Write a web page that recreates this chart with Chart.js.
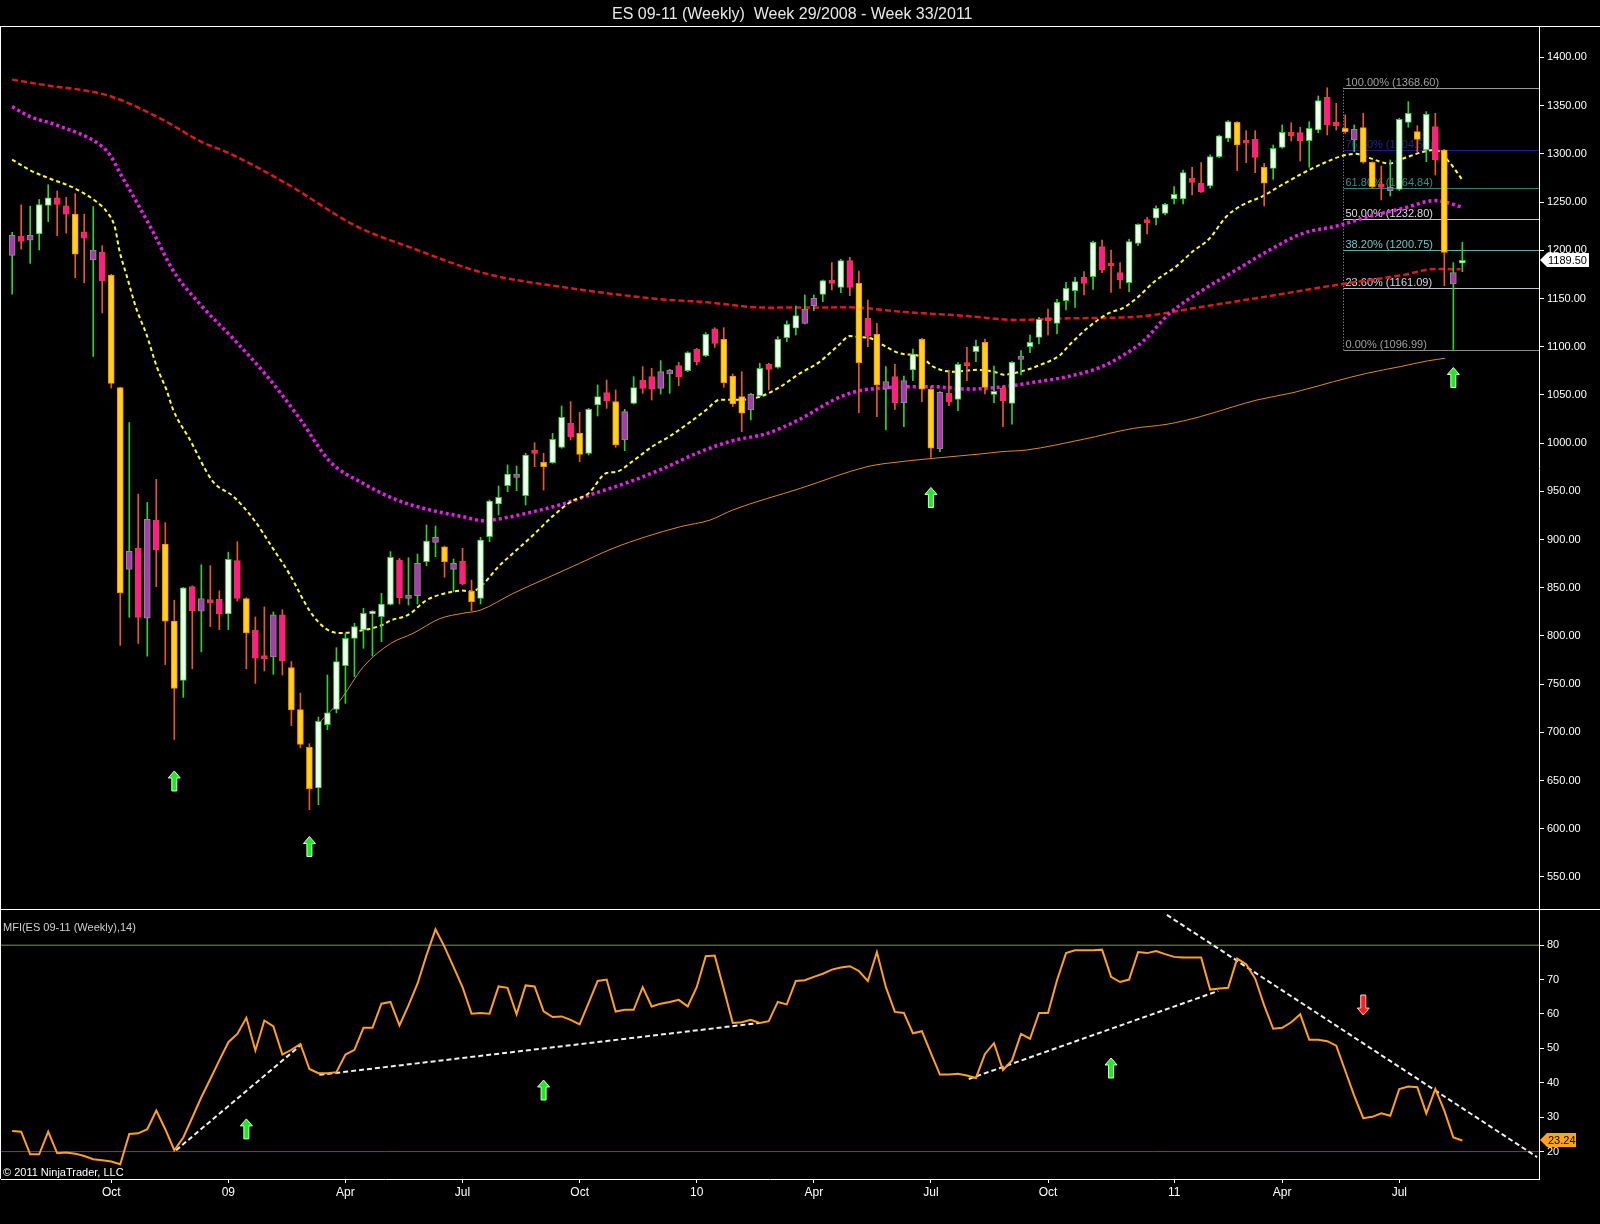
<!DOCTYPE html>
<html>
<head>
<meta charset="utf-8">
<title>ES 09-11 (Weekly)</title>
<script src="https://cdn.jsdelivr.net/npm/chart.js@4.4.1/dist/chart.umd.min.js"></script>
<style>
    html, body { margin: 0; padding: 0; background: #000; }
    body { width: 1600px; height: 1224px; position: relative; overflow: hidden; font-family: "Liberation Sans", Arial, sans-serif; }
    canvas { position: absolute; left: 0; }
    #priceChart { top: 0; }
    #mfiChart { top: 909px; }
    .txt { position: absolute; white-space: pre; z-index: 2; }
    #title { left: 612px; top: 5px; font-size: 16px; line-height: 18px; color: #e8e8e8; }
    #mfiName { left: 3px; top: 921px; font-size: 11px; line-height: 13px; color: #d0d0d0; }
    #copy { left: 3px; top: 1166px; font-size: 11px; line-height: 13px; color: #ffffff; }
</style>
</head>
<body>
<div id="title" class="txt">ES 09-11 (Weekly)  Week 29/2008 - Week 33/2011</div>
<div id="mfiName" class="txt">MFI(ES 09-11 (Weekly),14)</div>
<div id="copy" class="txt">© 2011 NinjaTrader, LLC</div>
<canvas id="priceChart" width="1600" height="909"></canvas>
<canvas id="mfiChart" width="1600" height="315"></canvas>
<script>
// weekly bars, index 0 = Week 29/2008 ... index 161 = Week 33/2011
const opens = [1194.7,1214.8,1210.4,1216.9,1246.6,1254.5,1246.2,1237.5,1219.1,1189.9,
    1198.2,1174.2,1057.6,868.9,891.2,818.3,920.0,895.2,815.3,753.7,
    851.1,825.7,837.1,837.9,822.7,878.1,838.8,806.1,777.7,778.1,
    821.8,767.2,723.6,684.3,642.4,707.9,723.6,769.1,797.4,806.1,
    822.7,819.9,832.7,878.7,838.9,841.7,877.0,897.0,892.5,869.0,
    877.7,846.6,838.9,902.9,936.8,955.8,964.5,945.4,990.4,980.0,
    979.7,995.6,1020.5,1010.1,989.4,1039.5,1052.3,1043.0,1003.2,1041.2,
    1065.4,1068.9,1056.8,1071.7,1080.3,1075.1,1097.3,1090.7,1118.4,1107.6,
    1069.6,1048.2,1034.3,1049.2,1081.7,1078.6,1109.4,1119.1,1124.2,1142.6,
    1154.3,1168.2,1161.5,1189.2,1165.7,1129.4,1112.8,1055.8,1068.9,1041.9,
    1075.8,1107.6,1055.8,993.9,1051.6,1045.4,1082.1,1094.8,1104.5,1050.6,
    1056.8,1041.2,1086.9,1100.0,1109.7,1129.4,1124.2,1147.7,1158.1,1171.9,
    1172.6,1203.8,1186.5,1176.8,1166.4,1207.2,1231.4,1233.2,1238.3,1253.2,
    1253.2,1274.7,1269.5,1266.7,1297.1,1316.1,1332.7,1314.4,1315.1,1286.1,
    1285.0,1306.8,1322.4,1322.0,1313.7,1324.8,1358.7,1332.7,1326.5,1314.4,
    1327.2,1291.3,1268.4,1261.9,1263.2,1332.7,1323.1,1304.0,1328.2,1304.0,
    1165.0,1186.5];
const highs = [1218.7,1247.1,1245.8,1252.7,1268.0,1261.5,1254.9,1258.8,1237.5,1245.3,
    1204.7,1175.0,1058.0,1021.3,947.1,938.4,962.4,917.4,837.1,850.2,
    851.9,873.8,872.9,846.7,886.9,897.8,839.7,819.6,830.1,824.9,
    827.1,773.4,740.6,688.2,715.7,759.4,787.8,802.6,813.0,828.6,
    826.2,844.1,887.4,880.4,881.1,884.9,915.0,914.0,893.2,879.7,
    890.8,857.9,902.2,941.0,955.5,977.3,976.2,989.4,1000.4,989.4,
    1010.1,1038.5,1043.0,1031.9,1036.0,1060.3,1065.4,1055.1,1035.0,1068.9,
    1079.3,1077.6,1085.5,1076.5,1083.8,1094.8,1098.3,1114.6,1119.7,1119.7,
    1071.7,1074.1,1051.6,1082.8,1082.8,1110.4,1126.7,1142.2,1153.6,1153.6,
    1169.2,1187.2,1190.6,1192.7,1178.5,1148.4,1124.2,1079.3,1081.7,1069.6,
    1097.6,1108.7,1058.5,1053.3,1075.8,1083.4,1099.3,1106.9,1108.0,1079.9,
    1059.2,1084.5,1095.9,1112.1,1130.5,1139.1,1149.1,1166.8,1171.9,1177.8,
    1209.6,1210.7,1200.3,1187.2,1211.4,1227.3,1234.2,1246.0,1248.7,1266.0,
    1283.3,1286.1,1290.9,1298.9,1319.6,1334.5,1333.4,1324.1,1324.1,1290.2,
    1309.2,1330.0,1332.4,1327.6,1333.4,1360.1,1368.6,1352.5,1340.4,1330.0,
    1342.1,1291.9,1287.4,1293.7,1336.9,1354.2,1329.3,1343.8,1342.1,1304.7,
    1187.2,1208.3];
const lows = [1154.5,1201.2,1186.4,1200.3,1229.6,1215.2,1217.8,1171.5,1166.3,1089.9,
    1134.9,1057.1,790.0,819.2,792.1,779.0,851.1,770.3,692.6,736.2,
    765.9,783.4,809.6,806.5,806.5,836.2,765.9,750.7,763.7,760.2,
    759.4,707.0,683.8,619.7,624.9,702.6,720.1,730.0,757.7,787.1,
    779.1,794.0,832.0,833.1,832.0,833.1,872.8,882.2,860.7,845.9,
    852.8,826.1,833.1,897.7,925.4,949.6,950.6,935.8,975.5,951.3,
    979.0,994.6,1003.2,980.7,987.6,1028.1,1036.0,995.6,992.1,1040.5,
    1051.6,1044.7,1050.9,1051.6,1059.6,1074.1,1081.0,1089.7,1099.3,1057.8,
    1037.8,1011.9,1024.0,1048.2,1055.1,1077.6,1105.2,1112.1,1123.5,1137.4,
    1146.7,1158.8,1156.1,1152.9,1031.6,1100.0,1027.4,1013.6,1035.0,1017.1,
    1064.8,1043.0,985.2,991.1,1038.8,1033.6,1064.8,1084.5,1050.9,1041.9,
    1017.1,1019.5,1070.6,1093.8,1102.8,1112.1,1113.2,1138.1,1140.8,1153.6,
    1159.5,1176.8,1156.4,1160.5,1157.1,1204.8,1216.9,1226.2,1236.6,1248.0,
    1248.0,1257.4,1260.1,1264.3,1296.1,1312.7,1282.6,1290.9,1280.5,1245.9,
    1273.6,1305.8,1313.4,1292.6,1286.1,1322.0,1319.6,1324.8,1321.3,1302.3,
    1290.2,1264.3,1252.2,1256.3,1261.9,1327.6,1302.3,1291.9,1278.1,1163.3,
    1097.0,1177.8];
const closes = [1215.6,1209.1,1215.6,1247.5,1254.5,1247.5,1237.5,1196.0,1212.6,1200.3,
    1168.5,1062.0,844.5,887.7,819.2,920.9,889.5,815.3,745.4,849.8,
    826.2,838.8,834.5,822.7,879.4,838.8,803.0,776.8,776.4,821.8,
    773.8,723.1,687.3,641.5,711.4,720.1,773.4,797.4,809.6,823.4,
    824.1,833.1,881.5,839.6,842.4,875.3,898.4,902.2,877.0,875.3,
    853.8,835.5,899.5,939.9,943.7,967.9,967.9,987.6,989.4,975.5,
    1003.9,1026.7,1006.7,988.3,1035.0,1048.2,1043.7,998.0,1032.6,1057.5,
    1056.8,1055.8,1074.1,1075.8,1068.9,1093.8,1084.5,1112.8,1103.5,1062.7,
    1040.6,1030.9,1050.6,1077.6,1076.5,1107.6,1123.2,1132.2,1139.1,1150.2,
    1168.5,1165.7,1189.2,1161.5,1083.4,1111.1,1060.3,1063.7,1041.9,1064.8,
    1092.4,1055.8,994.6,1052.7,1043.0,1081.7,1080.3,1100.7,1057.8,1051.6,
    1044.0,1083.8,1090.3,1104.5,1128.4,1127.0,1146.0,1160.5,1167.5,1165.7,
    1208.3,1179.6,1183.7,1169.2,1209.0,1226.9,1228.7,1243.5,1247.7,1258.0,
    1280.5,1270.5,1260.8,1297.1,1318.6,1333.4,1309.2,1311.0,1296.4,1269.5,
    1305.8,1322.4,1318.9,1313.7,1326.5,1355.2,1330.0,1329.3,1323.1,1325.5,
    1291.3,1266.0,1265.3,1265.3,1335.9,1342.1,1315.1,1341.0,1293.7,1197.9,
    1176.8,1189.5];
// 1 = white / gold body, 0 = magenta body
const fullBody = [0,0,0,1,1,0,0,1,0,0, 0,1,1,0,0,0,0,1,1,1, 0,0,0,0,1,0,1,0,0,0,
    0,1,1,1,1,1,1,1,1,1, 1,1,1,0,0,0,1,0,1,0, 0,1,1,1,1,1,0,1,0,1,
    1,1,0,1,1,1,0,1,0,1, 0,0,0,0,0,1,0,1,0,1, 1,1,0,1,0,1,1,1,0,0,
    1,0,1,0,1,0,1,0,0,0, 1,1,1,0,0,1,0,1,1,1, 0,1,0,1,1,0,1,1,1,0,
    1,0,0,0,1,1,0,1,1,1, 1,0,0,1,1,1,1,0,0,1, 1,1,0,0,1,1,0,0,1,0,
    1,1,0,0,1,1,1,1,0,1, 0,1];

// moving averages (bar index, price)
const fastMaBars = [0,2,4,7,9.4,10.5,11.4,11.9,12.7,13.8,14.9,16.1,17.1,17.9,19.7,22.3,24.5,26.8,29,30.8,
    33.1,34.9,36.4,39,41,42,44,46,48,50,51,52,54,56,58,60,62,64,66,67,
    69,71,73,75,77,78.6,80.8,83,85.2,87.4,89.6,91.8,93,94,95.2,97,98.6,100.8,102.3,104.5,
    107.1,109,110.1,111.9,114.1,116.3,117.4,119.6,121.8,123.3,124.8,127,129.2,131.1,132.9,134.8,136.6,138.8,141,143.3,
    145.5,147.7,149.2,150.6,152.9,154.4,156.6,158,159.5,161];
const fastMaVals = [1294,1283,1275,1264,1250,1240,1224,1200,1174,1139,1113,1078,1056,1034,1004,960,945,921,890,864,
    825,807,803,806,811,816,822,837,844,847,846,851,872,889,906,924,939,948,969,970,
    982,996,1007,1020,1034,1045,1045,1048,1058,1072,1084,1102,1111,1110,1109,1100,1093,1090,1079,1074,
    1076,1074,1071,1074,1081,1091,1102,1121,1135,1140,1150,1169,1183,1199,1212,1235,1247,1256,1268,1280,
    1290,1298,1300,1296,1290,1295,1302,1304,1292,1273];
const midMaBars = [0,2,4.9,10,11,11.8,13.4,15.7,17.9,20.9,24.5,28.3,31.9,35.3,39,42.7,46.4,50,52.3,53.8,
    57.5,61.2,64.9,68.6,72.3,76.4,80,83.8,87.5,91.2,93.5,97.1,102.3,106,109.7,113.4,117.2,120.9,123.5,125.6,
    128.5,132.2,135.9,139.6,143.3,147,150.6,154.4,158,159.5,160.8];
const midMaVals = [1349,1338.6,1330,1307.5,1297,1283,1257,1218,1178.5,1143.6,1108.7,1069.4,1025.7,980.7,958,941,930.6,923.7,919.5,921,
    928,937,948.6,960,973.8,991,1002.5,1010,1025,1044.7,1053,1057.5,1058.5,1056,1058,1063,1069,1079,1092,1106,
    1134.6,1158.8,1179.6,1200.3,1217.6,1225,1235,1243.5,1251.5,1249,1245];
const slowMaBars = [0,4.3,7.7,11,16.8,20.9,24.1,30.4,38.3,44,52.5,61,72.3,76.4,83.8,93,98.6,106,111.5,117.4,124.8,
    132.2,139.6,147,154.4,158,160.8];
const slowMaVals = [1377,1370.4,1366.3,1359.5,1335,1313,1300.6,1269.5,1224.5,1203.7,1176,1162,1149,1146.7,1140.5,1140.8,1136.3,1131.8,1127.7,1129.4,1131,
    1141.5,1152.6,1164,1174.4,1180.6,1180.2];
const longMaBars = [34.2,36.4,39,42,44.5,47.5,50,52,55.6,59.3,63,66.7,70.4,74.2,77.5,80,87.5,94.9,97.1,102.3,
    107.8,109.7,112.6,118.9,124.5,128.2,131.9,135.6,138.2,142.2,146.7,150.4,154.1,157.1,159.1];
const longMaVals = [711,733,768,792,802.6,818,823.4,826.8,844,859.7,875.3,890.8,903,913.3,920.2,930.6,953,975.5,979,984.2,
    989,991,992.8,1003.9,1015.3,1019.5,1027.4,1037.8,1044.7,1052.3,1063.7,1072.4,1079.3,1085.2,1088];

// fibonacci retracement
const fibLevels = [0, 23.6, 38.2, 50, 61.8, 76.4, 100];
const fibPrices = [1096.99, 1161.09, 1200.75, 1232.80, 1264.84, 1304.50, 1368.60];
const fibStartBar = 147.75;

// signal arrows
const upArrowBars = [18, 33, 102, 160];
const upArrowPrices = [649.5, 581.5, 943.6, 1068];

// money flow index (14)
const mfiValues = [26.0,25.8,19.2,19.2,25.8,19.5,19.7,19.4,18.7,17.8,
    17.5,17.1,16.3,25.1,25.3,26.5,31.9,26.5,20.4,24.1,
    29.9,35.8,41.1,46.5,51.8,54.2,58.9,49.4,58.1,56.4,
    48.2,49.6,51.3,44.0,42.8,42.8,43.1,48.2,49.6,56.0,
    56.0,63.0,63.5,56.7,62.5,68.8,77.1,84.6,79.5,73.7,
    67.8,60.1,60.3,60.1,68.0,67.6,59.9,68.3,68.0,60.8,
    59.1,59.3,58.3,57.0,63.2,69.6,70.0,60.7,61.2,61.2,
    67.8,62.2,63.0,63.5,64.1,62.2,67.8,76.8,77.0,67.3,
    57.4,57.6,58.3,57.4,57.9,63.5,62.8,69.6,69.8,70.8,
    71.7,72.9,73.5,73.9,72.5,69.6,78.0,67.8,60.6,60.3,
    54.4,55.0,48.6,42.4,42.4,42.6,42.1,41.4,48.4,51.5,
    43.7,46.5,54.2,52.8,60.3,60.3,69.8,77.7,78.5,78.5,
    78.5,78.7,70.8,69.3,70.0,78.0,77.7,78.3,77.4,76.6,
    76.4,76.4,76.4,67.1,67.4,67.6,76.1,74.5,70.3,62.5,
    55.7,56.0,57.6,59.9,52.5,52.5,52.1,50.8,43.5,36.2,
    29.7,30.1,31.1,30.4,38.2,38.9,38.7,31.1,38.2,31.9,
    24.1,23.24];
const mfiUpper = 80;
const mfiLower = 20;
const trendStartBars = [18.2, 34.1, 106.2, 128.2];
const trendStartVals = [20.4, 42.3, 41.1, 88.8];
const trendEndBars = [32.1, 83, 133.9, 169.3];
const trendEndVals = [51.1, 57.4, 66.7, 18.4];
const mfiUpBars = [26, 59, 122];
const mfiUpVals = [26.6, 37.9, 44.3];
const mfiDownBars = [150];
const mfiDownVals = [62.6];

// axes
const xTickBars = [11, 24, 37, 50, 63, 76, 89, 102, 115, 129, 141, 154];
const xTickLabels = ['Oct', '09', 'Apr', 'Jul', 'Oct', '10', 'Apr', 'Jul', 'Oct', '11', 'Apr', 'Jul'];
const priceTicks = [550,600,650,700,750,800,850,900,950,1000,1050,1100,1150,1200,1250,1300,1350,1400];
const mfiTicks = [20, 30, 40, 50, 60, 70, 80];

const xMin = -1.24, xMax = 169.51;
const FONT = '"Liberation Sans", Arial, sans-serif';

const pts = (xs, ys) => xs.map((x, k) => ({ x: x, y: ys[k] }));
const isUp = i => closes[i] >= opens[i];

const bodyFill = opens.map((o, i) => isUp(i) ? (fullBody[i] ? '#f4fff4' : '#a83cac') : (fullBody[i] ? '#ffd21e' : '#ff1c8e'));
const bodyEdge = opens.map((o, i) => isUp(i) ? (fullBody[i] ? '#33cc33' : '#7f9a80') : (fullBody[i] ? '#ff8a00' : '#e8402c'));
const wickColor = opens.map((o, i) => isUp(i) ? '#2fd12f' : '#e65a2a');

function drawArrow(ctx, cx, cy, dir, fill, edge) {
    // dir -1 = pointing up, 1 = pointing down
    const tipY = cy + dir * 10;
    const baseY = tipY - dir * 7;
    const tailY = cy - dir * 10;
    ctx.beginPath();
    ctx.moveTo(cx, tipY);
    ctx.lineTo(cx + 6, baseY);
    ctx.lineTo(cx + 2.5, baseY);
    ctx.lineTo(cx + 2.5, tailY);
    ctx.lineTo(cx - 2.5, tailY);
    ctx.lineTo(cx - 2.5, baseY);
    ctx.lineTo(cx - 6, baseY);
    ctx.closePath();
    ctx.fillStyle = fill;
    ctx.fill();
    ctx.lineWidth = 1;
    ctx.strokeStyle = edge;
    ctx.stroke();
}

function drawValueTag(ctx, x, y, w, text, fill) {
    ctx.beginPath();
    ctx.moveTo(x, y);
    ctx.lineTo(x + 7, y - 7);
    ctx.lineTo(x + w, y - 7);
    ctx.lineTo(x + w, y + 7);
    ctx.lineTo(x + 7, y + 7);
    ctx.closePath();
    ctx.fillStyle = fill;
    ctx.fill();
    ctx.fillStyle = '#000';
    ctx.font = '11px ' + FONT;
    ctx.textBaseline = 'middle';
    ctx.textAlign = 'left';
    ctx.fillText(text, x + 8, y + 0.5);
}

const fibLineColors = ['#8c8c8c', '#b8c4d0', '#5fb0b0', '#c8c8c8', '#2e8080', '#1c1c8c', '#9a9a9a'];
const fibTextColors = ['#a0a0a0', '#d0d8e0', '#70c4c4', '#dcdcdc', '#2e9090', '#22229a', '#a0a0a0'];

const fibPlugin = {
    id: 'fib',
    beforeDatasetsDraw(chart) {
        const { ctx, chartArea } = chart;
        const x = chart.scales.x, y = chart.scales.y;
        const x0 = Math.round(x.getPixelForValue(fibStartBar)) + 0.5;
        ctx.save();
        ctx.font = '11px ' + FONT;
        ctx.textAlign = 'left';
        ctx.textBaseline = 'alphabetic';
        fibLevels.forEach((lvl, k) => {
            const py = Math.round(y.getPixelForValue(fibPrices[k])) + 0.5;
            ctx.strokeStyle = fibLineColors[k];
            ctx.lineWidth = 1;
            ctx.beginPath();
            ctx.moveTo(x0, py);
            ctx.lineTo(chartArea.right, py);
            ctx.stroke();
            ctx.fillStyle = fibTextColors[k];
            ctx.fillText(lvl.toFixed(2) + '% (' + fibPrices[k].toFixed(2) + ')', x0 + 2, py - 3);
        });
        ctx.strokeStyle = '#a8a8a8';
        ctx.setLineDash([1, 2]);
        ctx.beginPath();
        ctx.moveTo(x0, y.getPixelForValue(fibPrices[6]));
        ctx.lineTo(x0, y.getPixelForValue(fibPrices[0]));
        ctx.stroke();
        ctx.restore();
    }
};

const priceExtras = {
    id: 'priceExtras',
    afterDraw(chart) {
        const { ctx, chartArea } = chart;
        const x = chart.scales.x, y = chart.scales.y;
        ctx.save();
        upArrowBars.forEach((b, k) => {
            drawArrow(ctx, x.getPixelForValue(b), y.getPixelForValue(upArrowPrices[k]), -1, '#1eec1e', '#d4ffd4');
        });
        // panel frame
        ctx.strokeStyle = '#ffffff';
        ctx.lineWidth = 1;
        ctx.beginPath();
        ctx.moveTo(0, chartArea.top - 0.5);
        ctx.lineTo(chart.width, chartArea.top - 0.5);
        ctx.moveTo(0.5, chartArea.top);
        ctx.lineTo(0.5, chartArea.bottom);
        ctx.stroke();
        const last = closes[closes.length - 1];
        drawValueTag(ctx, chartArea.right + 1, Math.round(y.getPixelForValue(last)), 49, last.toFixed(2), '#ffffff');
        ctx.restore();
    }
};

const mfiExtras = {
    id: 'mfiExtras',
    afterDraw(chart) {
        const { ctx, chartArea } = chart;
        const x = chart.scales.x, y = chart.scales.y;
        ctx.save();
        mfiUpBars.forEach((b, k) => {
            drawArrow(ctx, x.getPixelForValue(b), y.getPixelForValue(mfiUpVals[k]), -1, '#1eec1e', '#d4ffd4');
        });
        mfiDownBars.forEach((b, k) => {
            drawArrow(ctx, x.getPixelForValue(b), y.getPixelForValue(mfiDownVals[k]), 1, '#ff1e1e', '#ffd0d0');
        });
        ctx.strokeStyle = '#ffffff';
        ctx.lineWidth = 1;
        ctx.beginPath();
        ctx.moveTo(0, 0.5);
        ctx.lineTo(chart.width, 0.5);
        ctx.moveTo(0.5, 0);
        ctx.lineTo(0.5, chartArea.bottom);
        ctx.stroke();
        const last = mfiValues[mfiValues.length - 1];
        drawValueTag(ctx, chartArea.right + 1, Math.round(y.getPixelForValue(last)), 36, last.toFixed(2), '#ffa41c');
        ctx.restore();
    }
};

function rightAxis(min, max, tickValues, fmt) {
    return {
        position: 'right',
        min: min,
        max: max,
        afterBuildTicks: s => { s.ticks = tickValues.map(v => ({ value: v })); },
        afterFit: s => { s.width = 61; s.paddingTop = 0; s.paddingBottom = 0; },
        ticks: { color: '#ffffff', font: { family: FONT, size: 11 }, padding: 3, callback: fmt },
        grid: { drawOnChartArea: false, color: '#ffffff', tickLength: 5 },
        border: { display: true, color: '#ffffff', width: 1 }
    };
}

function lineSet(label, bars, vals, color, width, dash, order) {
    return {
        type: 'line', label: label, data: pts(bars, vals),
        borderColor: color, borderWidth: width, borderDash: dash,
        pointRadius: 0, cubicInterpolationMode: 'monotone', fill: false, order: order
    };
}

new Chart(document.getElementById('priceChart'), {
    type: 'bar',
    data: {
        datasets: [
            {
                label: 'Body', data: opens.map((o, i) => ({ x: i, y: [o, closes[i]] })),
                backgroundColor: bodyFill, borderColor: bodyEdge, borderWidth: 1, borderSkipped: false,
                barThickness: 6, minBarLength: 3, grouped: false, order: 0
            },
            {
                label: 'Wick', data: lows.map((l, i) => ({ x: i, y: [l, highs[i]] })),
                backgroundColor: wickColor, borderWidth: 0, barThickness: 1, grouped: false, order: 1
            },
            lineSet('Fast', fastMaBars, fastMaVals, '#ffff2e', 2, [4, 3], 2),
            lineSet('Mid', midMaBars, midMaVals, '#ea1eea', 3.5, [3, 3], 3),
            lineSet('Slow', slowMaBars, slowMaVals, '#dc1a1a', 2.5, [6, 3], 4),
            lineSet('Long', longMaBars, longMaVals, '#e08a22', 1, [], 5)
        ]
    },
    options: {
        responsive: false,
        animation: false,
        layout: { padding: { left: 1, top: 27, right: 0, bottom: 0 } },
        plugins: { legend: { display: false }, tooltip: { enabled: false } },
        scales: {
            x: { type: 'linear', min: xMin, max: xMax, display: false, offset: false, grid: { offset: false } },
            y: rightAxis(516.7, 1431.6, priceTicks, v => Number(v).toFixed(2))
        }
    },
    plugins: [fibPlugin, priceExtras]
});

const mfiSets = [
    { label: 'MFI', data: mfiValues.map((v, i) => ({ x: i, y: v })), borderColor: '#ffa01e', borderWidth: 2, pointRadius: 0, tension: 0, order: 0 },
    { label: 'Upper', data: pts([xMin, xMax], [mfiUpper, mfiUpper]), borderColor: '#7b9a3a', borderWidth: 1, pointRadius: 0, order: 5 },
    { label: 'Lower', data: pts([xMin, xMax], [mfiLower, mfiLower]), borderColor: '#7a2cb4', borderWidth: 1, pointRadius: 0, order: 5 }
];
trendStartBars.forEach((b, k) => {
    mfiSets.push({
        label: 'Trend ' + (k + 1),
        data: pts([b, trendEndBars[k]], [trendStartVals[k], trendEndVals[k]]),
        borderColor: '#f0f0f0', borderWidth: 2, borderDash: [5, 3], pointRadius: 0, order: 1
    });
});

new Chart(document.getElementById('mfiChart'), {
    type: 'line',
    data: { datasets: mfiSets },
    options: {
        responsive: false,
        animation: false,
        layout: { padding: { left: 1, top: 0, right: 0, bottom: 0 } },
        plugins: { legend: { display: false }, tooltip: { enabled: false } },
        scales: {
            x: {
                type: 'linear', min: xMin, max: xMax, offset: false,
                afterBuildTicks: s => { s.ticks = xTickBars.map(v => ({ value: v })); },
                afterFit: s => { s.height = 45; s.paddingLeft = 0; s.paddingRight = 0; },
                ticks: {
                    color: '#ffffff', font: { family: FONT, size: 12 }, padding: 2, maxRotation: 0, autoSkip: false,
                    callback: v => { const k = xTickBars.indexOf(v); return k >= 0 ? xTickLabels[k] : ''; }
                },
                grid: { drawOnChartArea: false, color: '#ffffff', tickLength: 4 },
                border: { display: true, color: '#ffffff', width: 1 }
            },
            y: rightAxis(12.03, 90.52, mfiTicks, v => String(v))
        }
    },
    plugins: [mfiExtras]
});
</script>
</body>
</html>
